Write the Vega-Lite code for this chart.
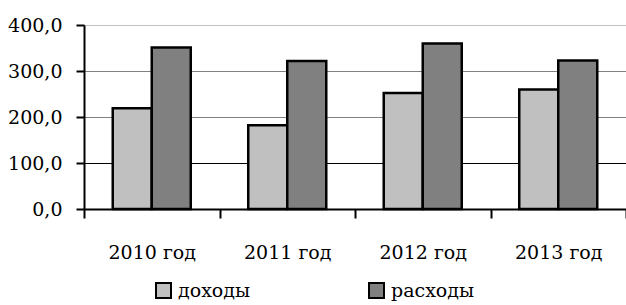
{
  "$schema": "https://vega.github.io/schema/vega-lite/v6.json",
  "width": 542,
  "height": 184,
  "autosize": {"type": "none"},
  "padding": {"left": 84, "top": 25, "right": 0, "bottom": 96},
  "background": "white",
  "data": {
    "values": [
      {"year": "2010 год", "type": "доходы", "value": 219},
      {"year": "2010 год", "type": "расходы", "value": 351},
      {"year": "2011 год", "type": "доходы", "value": 182},
      {"year": "2011 год", "type": "расходы", "value": 322},
      {"year": "2012 год", "type": "доходы", "value": 252},
      {"year": "2012 год", "type": "расходы", "value": 360},
      {"year": "2013 год", "type": "доходы", "value": 260},
      {"year": "2013 год", "type": "расходы", "value": 323}
    ]
  },
  "mark": {"type": "bar", "stroke": "black", "strokeWidth": 2.5},
  "encoding": {
    "x": {
      "field": "year",
      "type": "nominal",
      "sort": null,
      "scale": {"paddingInner": 0, "paddingOuter": 0},
      "axis": {
        "title": null,
        "labelAngle": 0,
        "labelFont": "DejaVu Serif",
        "labelFontSize": 19,
        "labelColor": "black",
        "labelPadding": 25,
        "domainColor": "black",
        "domainWidth": 2,
        "tickColor": "black",
        "tickWidth": 2,
        "tickSize": 9,
        "tickBand": "extent",
        "grid": false
      }
    },
    "xOffset": {
      "field": "type",
      "type": "nominal",
      "sort": null,
      "scale": {"paddingInner": 0, "paddingOuter": 0.737}
    },
    "y": {
      "field": "value",
      "type": "quantitative",
      "scale": {"domain": [0, 400], "nice": false},
      "axis": {
        "title": null,
        "values": [0, 100, 200, 300, 400],
        "labelExpr": "replace(format(datum.value, '.1f'), '.', ',')",
        "labelFont": "DejaVu Serif",
        "labelFontSize": 19,
        "labelColor": "black",
        "labelPadding": 14,
        "domainColor": "black",
        "domainWidth": 2,
        "tickColor": "black",
        "tickWidth": 2,
        "tickSize": 8,
        "grid": true,
        "gridWidth": 1,
        "gridColor": {
          "condition": [
            {"test": "datum.value === 100", "value": "#000000"},
            {"test": "datum.value === 400", "value": "#c0c0c0"}
          ],
          "value": "#808080"
        }
      }
    },
    "fill": {
      "field": "type",
      "type": "nominal",
      "sort": null,
      "scale": {"domain": ["доходы", "расходы"], "range": ["#c0c0c0", "#808080"]},
      "legend": {
        "title": null,
        "orient": "none",
        "legendX": 70,
        "legendY": 256,
        "direction": "horizontal",
        "symbolType": "square",
        "symbolSize": 225,
        "symbolStrokeColor": "black",
        "symbolStrokeWidth": 2,
        "labelFont": "DejaVu Serif",
        "labelFontSize": 19,
        "labelColor": "black",
        "labelOffset": 5,
        "columnPadding": 114
      }
    }
  },
  "config": {"view": {"stroke": null}}
}
